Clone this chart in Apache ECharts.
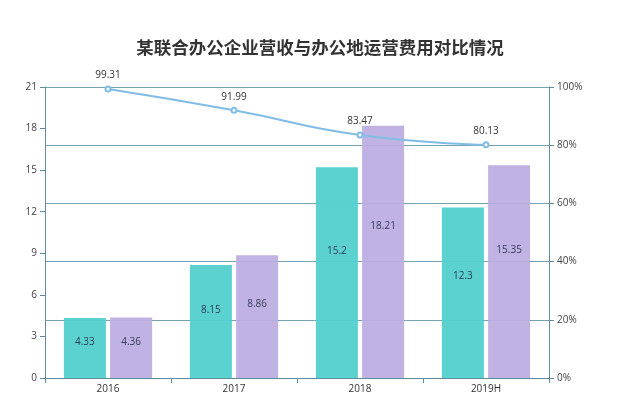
<!DOCTYPE html>
<html><head><meta charset="utf-8">
<script src="https://cdn.jsdelivr.net/npm/echarts@6/dist/echarts.min.js"></script>
<style>html,body{margin:0;padding:0;background:#fff}#c{width:640px;height:405px}</style>
</head><body><div id="c"></div>
<script>
const categories = ['2016', '2017', '2018', '2019H'];
const revenue = [4.33, 8.15, 15.2, 12.3];
const officeCost = [4.36, 8.86, 18.21, 15.35];
const ratio = [99.31, 91.99, 83.47, 80.13];

const axisColor = '#5e8e9c';
const chart = echarts.init(document.getElementById('c'));
const barLabel = {
  show: true, position: ['50%', '40%'], align: 'center', verticalAlign: 'middle',
  color: '#2b3552', fontSize: 10, fontFamily: 'Open Sans'
};
chart.setOption({
  animation: false,
  title: {
    text: '某联合办公企业营收与办公地运营费用对比情况', left: 'center', top: 34,
    textStyle: { fontSize: 17.5, fontWeight: 'bold', color: '#333', fontFamily: 'Noto Sans CJK SC' }
  },
  grid: { left: 45, right: 91, top: 87, bottom: 27 },
  xAxis: {
    type: 'category', data: categories,
    axisLine: { lineStyle: { color: axisColor } },
    axisTick: { show: true, lineStyle: { color: axisColor } },
    axisLabel: { color: '#333', fontSize: 10, fontFamily: 'Open Sans', margin: 6 }
  },
  yAxis: [
    {
      type: 'value', min: 0, max: 21, interval: 3,
      axisLine: { show: true, lineStyle: { color: axisColor } },
      axisTick: { show: true, lineStyle: { color: axisColor } },
      axisLabel: { color: '#444', fontSize: 10, fontFamily: 'Open Sans' },
      splitLine: { show: false }
    },
    {
      type: 'value', min: 0, max: 100, interval: 20,
      axisLine: { show: true, lineStyle: { color: axisColor } },
      axisTick: { show: true, lineStyle: { color: axisColor } },
      axisLabel: { color: '#444', fontSize: 10, fontFamily: 'Open Sans', formatter: '{value}%' },
      splitLine: { show: true, lineStyle: { color: '#76a2b2', width: 1 } }
    }
  ],
  series: [
    {
      type: 'bar', data: revenue, barWidth: 42, barGap: '10%',
      itemStyle: { color: '#52d0cd', opacity: 0.95 }, label: barLabel, z: 1
    },
    {
      type: 'bar', data: officeCost, barWidth: 42,
      itemStyle: { color: '#bdaee0', opacity: 0.95 }, label: barLabel, z: 1
    },
    {
      type: 'line', yAxisIndex: 1, data: ratio, smooth: true,
      symbol: 'emptyCircle', symbolSize: 5,
      lineStyle: { color: '#80bde6', width: 2 },
      itemStyle: { color: '#80bde6' },
      label: { show: true, position: 'top', color: '#333', fontSize: 10, fontFamily: 'Open Sans' },
      z: 5
    }
  ]
});
</script></body></html>
